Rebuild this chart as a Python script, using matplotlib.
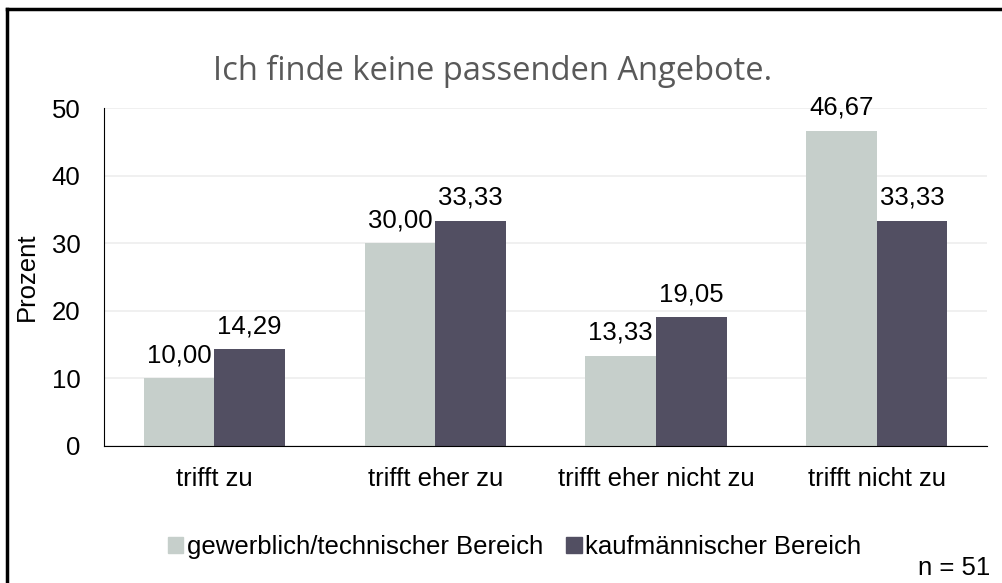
import numpy as np
import matplotlib
matplotlib.use("Agg")
import matplotlib.pyplot as plt
from matplotlib.lines import Line2D
from matplotlib.patches import Patch

categories = ["trifft zu", "trifft eher zu", "trifft eher nicht zu", "trifft nicht zu"]
gewerblich = [10.00, 30.00, 13.33, 46.67]
kaufmaennisch = [14.29, 33.33, 19.05, 33.33]
series_names = ["gewerblich/technischer Bereich", "kaufmännischer Bereich"]
yticks = [0, 10, 20, 30, 40, 50]

c_light = "#C6CFCB"
c_dark = "#524F62"

plt.rcParams['font.family'] = ['Liberation Sans', 'DejaVu Sans']
fs = 18.5

fig = plt.figure(figsize=(10.03, 5.83), dpi=100)
ax = fig.add_axes([0.1037, 0.235, 0.8804, 0.5795])

x = np.arange(len(categories))
w = 0.32
b1 = ax.bar(x - w / 2, gewerblich, w, color=c_light, zorder=2)
b2 = ax.bar(x + w / 2, kaufmaennisch, w, color=c_dark, zorder=2)

for bars, vals in ((b1, gewerblich), (b2, kaufmaennisch)):
    for r, v in zip(bars, vals):
        ax.annotate(f"{v:.2f}".replace(".", ","), (r.get_x() + r.get_width() / 2, v),
                    xytext=(0, 8), textcoords="offset points",
                    ha="center", va="bottom", fontsize=fs)

ax.set_xlim(-0.5, len(categories) - 0.5)
ax.set_ylim(0, 50)
ax.set_yticks(yticks)
ax.set_xticks(x)
ax.set_xticklabels(categories)
ax.tick_params(axis="both", length=0, labelsize=fs)
ax.tick_params(axis="x", pad=15)
ax.tick_params(axis="y", pad=17)
ax.grid(axis="y", color="#EDEDED", linewidth=1.2, zorder=0)
for s in ("top", "right"):
    ax.spines[s].set_visible(False)
ax.spines["left"].set_color("black")
ax.spines["bottom"].set_color("black")
ax.set_ylabel("Prozent", fontsize=fs)
ax.yaxis.set_label_coords(-0.074, 0.5)

fig.text(0.491, 0.878, "Ich finde keine passenden Angebote.", ha="center", va="center",
         fontsize=23.5, color="#595959", family=["Open Sans", "DejaVu Sans"])

handles = [Patch(color=c_light), Patch(color=c_dark)]
fig.legend(handles, series_names, loc="center", bbox_to_anchor=(0.513, 0.062),
           ncol=2, frameon=False, fontsize=fs, handlelength=0.6, handleheight=0.6,
           handletextpad=0.15, columnspacing=0.9)

fig.text(0.987, 0.006, "n = 51", ha="right", va="bottom", fontsize=fs)

# Rahmen oben und links
fig.add_artist(Line2D([0.007, 1.0], [0.984, 0.984], color="black", lw=2.5,
                      transform=fig.transFigure))
fig.add_artist(Line2D([0.007, 0.007], [0.0, 0.984], color="black", lw=2.5,
                      transform=fig.transFigure))

fig.savefig("out.png", dpi=100)
